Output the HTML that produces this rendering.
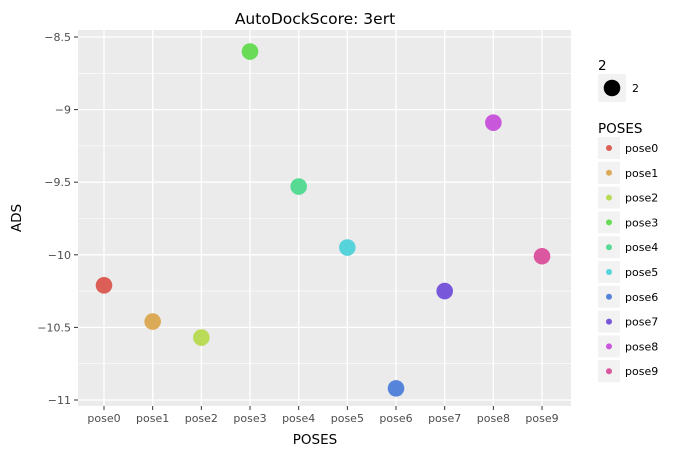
<!DOCTYPE html>
<html><head><meta charset="utf-8"><style>
body{margin:0;background:#fff;font-family:"DejaVu Sans","Liberation Sans",sans-serif}
</style></head><body>
<svg id="c" width="688" height="456" xmlns="http://www.w3.org/2000/svg">
<text x="315" y="24" font-size="15.5" text-anchor="middle" fill="#000">AutoDockScore: 3ert</text>
<rect x="78" y="30" width="493" height="376" fill="#ebebeb"/>
<g id="grid"></g><g id="axes"></g><g id="pts"></g><g id="legend"></g>
<text x="315" y="444" font-size="13.5" text-anchor="middle">POSES</text>
<text transform="translate(21,218) rotate(-90)" font-size="13.5" text-anchor="middle">ADS</text>
</svg>
<script>
const categories=["pose0","pose1","pose2","pose3","pose4","pose5","pose6","pose7","pose8","pose9"];
const values=[-10.21,-10.46,-10.57,-8.60,-9.53,-9.95,-10.92,-10.25,-9.09,-10.01];
const yTicks=[-8.5,-9,-9.5,-10,-10.5,-11];
const yTickLabels=["\u22128.5","\u22129","\u22129.5","\u221210","\u221210.5","\u221211"];
const colors=["#db5f57","#dbaa57","#b9db57","#69db57","#57db94","#57d3db","#5784db","#7957db","#c957db","#db579f"];
const NS="http://www.w3.org/2000/svg";
const x=i=>104+i*48.67;
const y=v=>37+(-8.5-v)*145.2;
function mk(p,t,a){const e=document.createElementNS(NS,t);for(const k in a)e.setAttribute(k,a[k]);document.getElementById(p).appendChild(e);return e;}
for(let i=0;i<yTicks.length-1;i++){const m=(yTicks[i]+yTicks[i+1])/2;
const g=mk('grid','line',{x1:78,x2:571,y1:y(m),y2:y(m),stroke:'#fff','stroke-width':0.6});

}
yTicks.forEach((t,i)=>{const g=mk('grid','line',{x1:78,x2:571,y1:y(t),y2:y(t),stroke:'#fff','stroke-width':1.3});


const tk=mk('axes','line',{x1:74,x2:78,y1:y(t),y2:y(t),stroke:'#333'});


const l=mk('axes','text',{x:71,y:y(t)+4,'font-size':11,'text-anchor':'end',fill:'#4d4d4d'});l.textContent=yTickLabels[i];

});
categories.forEach((c,i)=>{const g=mk('grid','line',{x1:x(i),x2:x(i),y1:30,y2:406,stroke:'#fff','stroke-width':1.3});


const tk=mk('axes','line',{x1:x(i),x2:x(i),y1:406,y2:410,stroke:'#333'});


const l=mk('axes','text',{x:x(i),y:422,'font-size':11,'text-anchor':'middle',fill:'#4d4d4d'});l.textContent=c;


const p=mk('pts','circle',{cx:x(i),cy:y(values[i]),r:8.3,fill:colors[i]});


const kb=mk('legend','rect',{x:598,y:137+i*24.8,width:22,height:22,fill:'#f2f2f2'});


const kd=mk('legend','circle',{cx:609,cy:148+i*24.8,r:3,fill:colors[i]});


const kl=mk('legend','text',{x:625,y:152+i*24.8,'font-size':11});kl.textContent=c;

});
let e;
e=mk('legend','text',{x:598,y:70,'font-size':13.5});e.textContent='2';


e=mk('legend','rect',{x:598,y:74,width:28,height:28,fill:'#f2f2f2'});


e=mk('legend','circle',{cx:612,cy:88,r:8.3,fill:'#000'});


e=mk('legend','text',{x:632,y:92,'font-size':11});e.textContent='2';


e=mk('legend','text',{x:598,y:133,'font-size':13.5});e.textContent='POSES';


</script>
</body></html>
